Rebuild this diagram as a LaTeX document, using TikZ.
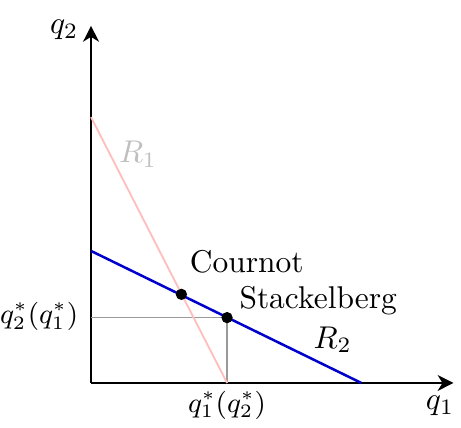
\documentclass[tikz,border=0pt]{standalone}
\usetikzlibrary{arrows.meta}

\begin{document}
\begin{tikzpicture}[
    x=1cm, y=1cm,
    axis/.style={line width=0.9pt, -{Stealth[length=5pt,width=5pt,inset=1.5pt]}},
    resp/.style={thick},
    guide/.style={gray!80, thin},
    eq/.style={circle, fill=black, inner sep=0pt, minimum size=3.6pt},
    lbl/.style={font=\normalsize},
]
\useasboundingbox (-1.017,-0.503) rectangle (4.134,4.279);

% --- Axes ---
\coordinate (O) at (0,0);
\coordinate (xend) at (4.05,0);
\coordinate (yend) at (0,3.99);
\draw[axis] (O) -- (xend);
\draw[axis] (O) -- (yend);
\node[lbl, anchor=base] (q1) at (3.9,-0.30) {$q_1$};
\node[lbl, anchor=base] (q2) at (-0.30,3.90) {$q_2$};

% --- Stackelberg quantities ---
\coordinate (sx) at (1.52,0);
\coordinate (sy) at (0,0.73);
\coordinate (sp) at (1.52,0.73);
\draw[guide] (sy) -- (sp) -- (sx);
\node[lbl, font=\small, anchor=base east] (q2s) at (-0.02,0.66) {$q_2^*(q_1^*)$};
\node[lbl, font=\small, anchor=base] (q1s) at (1.52,-0.33) {$q_1^*(q_2^*)$};

% --- Reaction functions ---
\coordinate (r1a) at (0,2.97);
\coordinate (r1b) at (1.52,0);
\coordinate (r2a) at (0,1.475);
\coordinate (r2b) at (3.02,0);
\draw[semithick, red!25] (r1a) -- (r1b);
\draw[resp, blue!80!black] (r2a) -- (r2b);
\node[lbl, text=black!25, anchor=base] (R1) at (0.525,2.46) {$R_1$};
\node[lbl, anchor=base] (R2) at (2.70,0.39) {$R_2$};

% --- Equilibria ---
\node[eq] (c) at (1.01,0.99) {};
\node[eq] (s) at (sp) {};
\node[lbl, anchor=base west] (clbl) at (0.98,1.23) {Cournot};
\node[lbl, anchor=base west] (slbl) at (1.535,0.83) {Stackelberg};

\end{tikzpicture}
\end{document}
